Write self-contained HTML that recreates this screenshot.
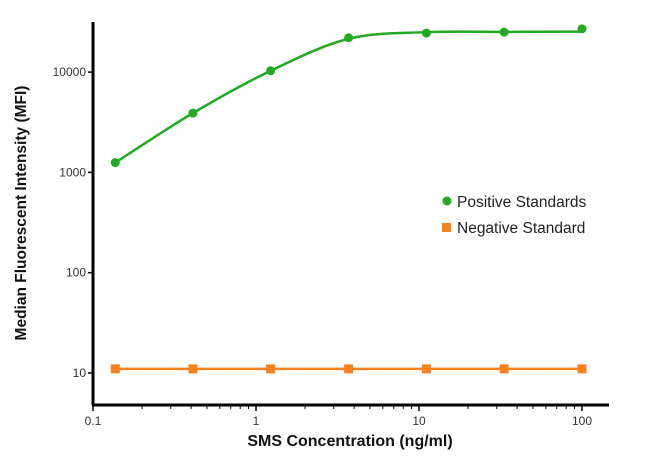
<!DOCTYPE html>
<html><head><meta charset="utf-8"><style>
body{margin:0;background:#fff}
svg{display:block;font-family:"Liberation Sans",Arial,sans-serif}
</style></head><body>
<svg id="chart" width="650" height="464" viewBox="0 0 650 464" xmlns="http://www.w3.org/2000/svg">
<g id="axes"></g><g id="series"></g>
<text x="350" y="446" text-anchor="middle" font-size="16" font-weight="bold" fill="#111">SMS Concentration (ng/ml)</text>
<text transform="translate(26,213) rotate(-90)" text-anchor="middle" font-size="15.5" font-weight="bold" fill="#111">Median Fluorescent Intensity (MFI)</text>
<g>
<circle cx="447" cy="201" r="4.5" fill="#22aa22"/>
<text x="457" y="207" font-size="15.5" fill="#222">Positive Standards</text>
<rect x="442" y="223" width="9" height="9" fill="#f5821f"/>
<text x="457" y="233" font-size="15.5" fill="#222">Negative Standard</text>
</g>
</svg>
<script>
const xValues=[0.137,0.41,1.23,3.7,11.1,33.3,100];
const positiveValues=[1250,3900,10300,22000,24500,25000,27000];
const positiveFit=[1250,3900,10300,21500,25000,25200,25300];
const negativeValues=[11,11,11,11,11,11,11];
const xTicks=[0.1,1,10,100];
const xTickLabels=["0.1","1","10","100"];
const yTicks=[10,100,1000,10000];
const yTickLabels=["10","100","1000","10000"];
const NS="http://www.w3.org/2000/svg";
const X=v=>93+163*Math.log10(v/0.1);
const Y=v=>373-100.3*(Math.log10(v)-1);
function mk(t,a,p){const e=document.createElementNS(NS,t);for(const k in a)e.setAttribute(k,a[k]);p.appendChild(e);return e;}
const ax=document.getElementById('axes'),se=document.getElementById('series');
let l=mk('line',{x1:93,y1:22,x2:93,y2:405,stroke:'#000','stroke-width':3},ax);


l=mk('line',{x1:92,y1:405,x2:609,y2:405,stroke:'#000','stroke-width':3},ax);


yTicks.forEach((v,i)=>{const y=Y(v);
mk('line',{x1:88,y1:y,x2:93,y2:y,stroke:'#000','stroke-width':1.5},ax);
const t=mk('text',{x:86,y:y+4,'text-anchor':'end','font-size':12,fill:'#333'},ax);t.textContent=yTickLabels[i];

});
for(let d=0.1;d<=100;d*=10){for(let m=2;m<=9;m++){const x=X(d*m);if(x>609)break;mk('line',{x1:x,y1:405,x2:x,y2:409,stroke:'#000','stroke-width':1},ax);}}
xTicks.forEach((v,i)=>{const x=X(v);
mk('line',{x1:x,y1:405,x2:x,y2:411,stroke:'#000','stroke-width':1.5},ax);
const t=mk('text',{x:x,y:425,'text-anchor':'middle','font-size':12,fill:'#333'},ax);t.textContent=xTickLabels[i];

});
// smooth fit curve (Catmull-Rom)
const P=xValues.map((x,i)=>[X(x),Y(positiveFit[i])]);
let d='M'+P[0][0]+','+P[0][1];
for(let i=0;i<P.length-1;i++){const p0=P[Math.max(0,i-1)],p1=P[i],p2=P[i+1],p3=P[Math.min(P.length-1,i+2)];
d+=' C'+(p1[0]+(p2[0]-p0[0])/6)+','+(p1[1]+(p2[1]-p0[1])/6)+' '+(p2[0]-(p3[0]-p1[0])/6)+','+(p2[1]-(p3[1]-p1[1])/6)+' '+p2[0]+','+p2[1];}
const c=mk('path',{d:d,fill:'none',stroke:'#22aa22','stroke-width':2.5},se);


xValues.forEach((x,i)=>{const p=mk('circle',{cx:X(x),cy:Y(positiveValues[i]),r:4.5,fill:'#22aa22'},se);

});
const nl=mk('polyline',{points:xValues.map((x,i)=>X(x)+','+Y(negativeValues[i])).join(' '),fill:'none',stroke:'#f5821f','stroke-width':2.5},se);


xValues.forEach((x,i)=>{const p=mk('rect',{x:X(x)-4.5,y:Y(negativeValues[i])-4.5,width:9,height:9,fill:'#f5821f'},se);

});
</script>
</body></html>
